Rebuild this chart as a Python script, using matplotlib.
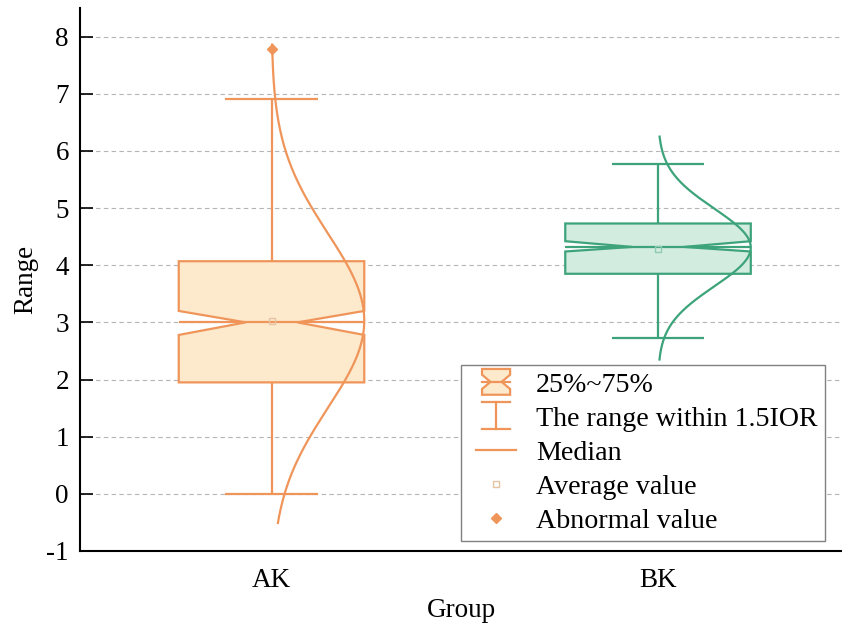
import numpy as np
import matplotlib
matplotlib.use('Agg')
import matplotlib.pyplot as plt
from matplotlib.patches import Polygon, Patch
from matplotlib.lines import Line2D
from matplotlib.legend_handler import HandlerBase

# ---- data ----
groups = ['AK', 'BK']
q1 = [1.95, 3.85]
q3 = [4.07, 4.73]
median = [3.00, 4.32]
notch_lo = [2.78, 4.24]
notch_hi = [3.20, 4.42]
whisker_lo = [0.00, 2.72]
whisker_hi = [6.90, 5.77]
mean = [3.03, 4.28]
outliers = [[7.78], []]
fit_mean = [3.03, 4.31]
fit_sd = [1.53, 0.68]
fit_lo = [-0.51, 2.35]
fit_hi = [7.86, 6.25]
yticks = list(range(-1, 9))
legend_labels = ['25%~75%', 'The range within 1.5IOR', 'Median',
                 'Average value', 'Abnormal value']

edge_colors = ['#F0955A', '#3DA37A']
fill_colors = ['#FDE9CC', '#D3ECE0']
mean_colors = ['#E5C4A4', '#8FCBB2']

plt.rcParams['font.family'] = ['Liberation Serif', 'DejaVu Serif']
plt.rcParams['axes.unicode_minus'] = False

fig = plt.figure(figsize=(8.42, 6.26), dpi=100)
ax = fig.add_axes([80 / 842, 75 / 626, 762 / 842, 543 / 626])

box_hw = 0.24
notch_hw = 0.067
cap_hw = 0.12
lw = 1.6

for i, g in enumerate(groups):
    pos = i + 1
    ec, fc = edge_colors[i], fill_colors[i]
    l, r = pos - box_hw, pos + box_hw
    verts = [(l, q1[i]), (l, notch_lo[i]), (pos - notch_hw, median[i]),
             (l, notch_hi[i]), (l, q3[i]), (r, q3[i]), (r, notch_hi[i]),
             (pos + notch_hw, median[i]), (r, notch_lo[i]), (r, q1[i])]
    ax.add_patch(Polygon(verts, closed=True, facecolor=fc, edgecolor=ec,
                         lw=lw, zorder=2))
    ax.hlines(median[i], l, r, color=ec, lw=lw, zorder=3)
    ax.vlines(pos, q3[i], whisker_hi[i], color=ec, lw=lw, zorder=2)
    ax.vlines(pos, whisker_lo[i], q1[i], color=ec, lw=lw, zorder=2)
    ax.hlines([whisker_lo[i], whisker_hi[i]], pos - cap_hw, pos + cap_hw,
              color=ec, lw=lw, zorder=2)
    ax.plot([pos], [mean[i]], marker='s', ms=5, mfc='none',
            mec=mean_colors[i], mew=1, ls='none', zorder=4)
    if outliers[i]:
        ax.plot([pos] * len(outliers[i]), outliers[i], marker='D', ms=5,
                color=ec, ls='none', zorder=5)
    yy = np.linspace(fit_lo[i], fit_hi[i], 400)
    xx = pos + box_hw * np.exp(-0.5 * ((yy - fit_mean[i]) / fit_sd[i]) ** 2)
    ax.plot(xx, yy, color=ec, lw=lw, zorder=4)

ax.set_xlim(0.5045, 2.476)
ax.set_ylim(-1, 8.5)
ax.set_xticks([1, 2])
ax.set_xticklabels(groups)
ax.set_yticks(yticks)
ax.set_yticklabels([str(t) for t in yticks])
ax.tick_params(axis='y', direction='in', length=9, width=1.2, labelsize=19.5, pad=8)
ax.tick_params(axis='x', length=0, labelsize=19.5, pad=12)
ax.set_xlabel('Group', fontsize=19.5, labelpad=4)
ax.set_ylabel('Range', fontsize=19.5, labelpad=6)
for s in ['top', 'right']:
    ax.spines[s].set_visible(False)
for s in ['left', 'bottom']:
    ax.spines[s].set_linewidth(1.5)
ax.yaxis.grid(True, linestyle=(0, (4, 3)), color='#b5b5b5', lw=0.8)
ax.set_axisbelow(True)


class NotchHandler(HandlerBase):
    def create_artists(self, legend, orig_handle, xdescent, ydescent,
                       width, height, fontsize, trans):
        cx = width / 2 - xdescent + 0.1 * fontsize
        cy = height / 2 - ydescent
        hw = 0.5 * fontsize
        hh = 0.46 * fontsize
        nw = 0.4 * hw
        nh = 0.55 * hh
        v = [(cx - hw, cy - hh), (cx - hw, cy - nh), (cx - nw, cy),
             (cx - hw, cy + nh), (cx - hw, cy + hh), (cx + hw, cy + hh),
             (cx + hw, cy + nh), (cx + nw, cy), (cx + hw, cy - nh),
             (cx + hw, cy - hh)]
        p = Polygon(v, closed=True, facecolor=orig_handle.get_facecolor(),
                    edgecolor=orig_handle.get_edgecolor(), lw=lw, transform=trans)
        m = Line2D([cx - hw, cx + hw], [cy, cy], color=orig_handle.get_edgecolor(),
                   lw=lw, transform=trans)
        return [p, m]


class WhiskerHandler(HandlerBase):
    def create_artists(self, legend, orig_handle, xdescent, ydescent,
                       width, height, fontsize, trans):
        cx = width / 2 - xdescent + 0.1 * fontsize
        cy = height / 2 - ydescent
        hw = 0.5 * fontsize
        hh = 0.48 * fontsize
        c = orig_handle.get_color()
        a = Line2D([cx, cx], [cy - hh, cy + hh], color=c, lw=lw, transform=trans)
        b = Line2D([cx - hw, cx + hw], [cy + hh, cy + hh], color=c, lw=lw, transform=trans)
        d = Line2D([cx - hw, cx + hw], [cy - hh, cy - hh], color=c, lw=lw, transform=trans)
        return [a, b, d]


class MedianHandler(HandlerBase):
    def create_artists(self, legend, orig_handle, xdescent, ydescent,
                       width, height, fontsize, trans):
        cx = width / 2 - xdescent + 0.1 * fontsize
        cy = height / 2 - ydescent
        hw = 0.72 * fontsize
        return [Line2D([cx - hw, cx + hw], [cy, cy], color=orig_handle.get_color(),
                       lw=lw, transform=trans)]


class MarkerHandler(HandlerBase):
    def create_artists(self, legend, orig_handle, xdescent, ydescent,
                       width, height, fontsize, trans):
        cx = width / 2 - xdescent + 0.1 * fontsize
        cy = height / 2 - ydescent
        m = Line2D([cx], [cy], transform=trans)
        m.update_from(orig_handle)
        m.set_transform(trans)
        return [m]


notch_proxy = Patch(facecolor=fill_colors[0], edgecolor=edge_colors[0])
whisker_proxy = Line2D([], [], color=edge_colors[0])
median_proxy = Line2D([], [], color=edge_colors[0], lw=lw)
mean_proxy = Line2D([], [], ls='none', marker='s', ms=5, mfc='none',
                    mec=mean_colors[0], mew=1)
outlier_proxy = Line2D([], [], ls='none', marker='D', ms=5, color=edge_colors[0])

leg = ax.legend([notch_proxy, whisker_proxy, median_proxy, mean_proxy, outlier_proxy],
                legend_labels,
                handler_map={notch_proxy: NotchHandler(), whisker_proxy: WhiskerHandler(),
                             median_proxy: MedianHandler(), mean_proxy: MarkerHandler(),
                             outlier_proxy: MarkerHandler()},
                loc='upper left', bbox_to_anchor=(0.5, 0.3425), borderaxespad=0,
                fontsize=20.2, handlelength=1.8, handletextpad=0.62,
                borderpad=0.25, labelspacing=0.3, fancybox=False, framealpha=1,
                edgecolor='#808080')
leg.get_frame().set_linewidth(1.0)

fig.savefig('out.png', dpi=100)
